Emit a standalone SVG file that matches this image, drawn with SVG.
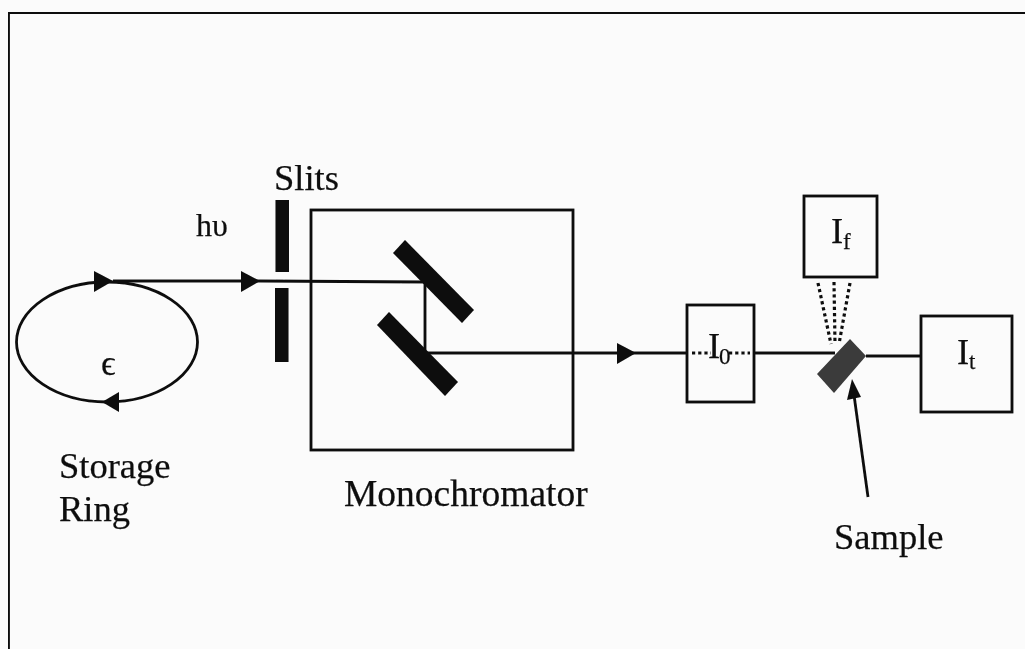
<svg xmlns="http://www.w3.org/2000/svg" width="1025" height="649" viewBox="0 0 1025 649">
<style>
text{font-family:"Liberation Serif","Times New Roman",serif;fill:#111;stroke:#111;stroke-width:.25}
.l{font-size:36.500px}
.m{font-size:37.500px}
.sub{font-size:23px}
.box{fill:none;stroke:#111;stroke-width:2.800}
.wire{fill:none;stroke:#111;stroke-width:2.800}
.dot{fill:none;stroke:#111;stroke-width:3.200;stroke-dasharray:3.200 3}
.solid{fill:#0c0c0c}
</style>
<defs>
<filter id="soft" x="0" y="0" width="100%" height="100%"><feGaussianBlur stdDeviation="0.5"/></filter>
</defs>
<rect width="1025" height="649" fill="#fbfbfb"/>
<g filter="url(#soft)">
<path id="frame" d="M8.500 649V12.500H1025" fill="none" stroke="#111" stroke-width="2.800"/>
<g id="connectors">
<path class="wire" d="M113 281H260L425 282V352"/>
<path class="wire" d="M426 353H687"/>
<path class="dot" d="M692 353H711"/>
<path class="dot" d="M729 353H750"/>
<path class="wire" d="M755 353H835"/>
<path class="wire" d="M866 356H921"/>
<path class="dot" d="M818 283L831 344"/>
<path class="dot" d="M834 282L835 344"/>
<path class="dot" d="M850 283L839 344"/>
<path class="wire" d="M868 497L854 395"/>
<polygon class="solid" points="94,271 113,281 94,292"/>
<polygon class="solid" points="241,271 260,281 241,292"/>
<polygon class="solid" points="617,343 636,353 617,364"/>
<polygon class="solid" points="119,392 102,402 119,412"/>
<polygon class="solid" points="852,379 847,400 861,397"/>
</g>
<g id="storage-ring">
<ellipse class="wire" cx="107" cy="342" rx="90.500" ry="60"/>
<text x="101" y="375" font-size="36">ϵ</text>
<text class="l" x="59" y="478">Storage</text>
<text class="l" x="59" y="521">Ring</text>
</g>
<text id="hv" x="196" y="236" font-size="32">hυ</text>
<g id="slits">
<text class="l" x="274" y="190">Slits</text>
<rect class="solid" x="275.500" y="200" width="13.500" height="72"/>
<rect class="solid" x="275" y="288" width="13.500" height="74"/>
</g>
<g id="monochromator">
<rect class="box" x="311" y="210" width="262" height="240"/>
<polygon class="solid" points="405,240 474,310 462,323 393,253"/>
<polygon class="solid" points="389,312 458,382 445,396 377,325"/>
<text class="m" x="344" y="506">Monochromator</text>
</g>
<g id="i0">
<rect class="box" x="687" y="305" width="67" height="97"/>
<text class="l" x="708" y="358">I</text>
<text class="sub" x="719" y="364">0</text>
</g>
<g id="if">
<rect class="box" x="804" y="196" width="73" height="81"/>
<text class="l" x="831" y="243">I</text>
<text class="sub" x="843" y="249">f</text>
</g>
<g id="it">
<rect class="box" x="921" y="316" width="91" height="96"/>
<text class="l" x="957" y="364">I</text>
<text class="sub" x="969" y="369">t</text>
</g>
<g id="sample">
<polygon points="850,339 866,356 834,393 817,374" fill="#3a3a3a"/>
<text class="l" x="834" y="549">Sample</text>
</g>
</g>
</svg>
